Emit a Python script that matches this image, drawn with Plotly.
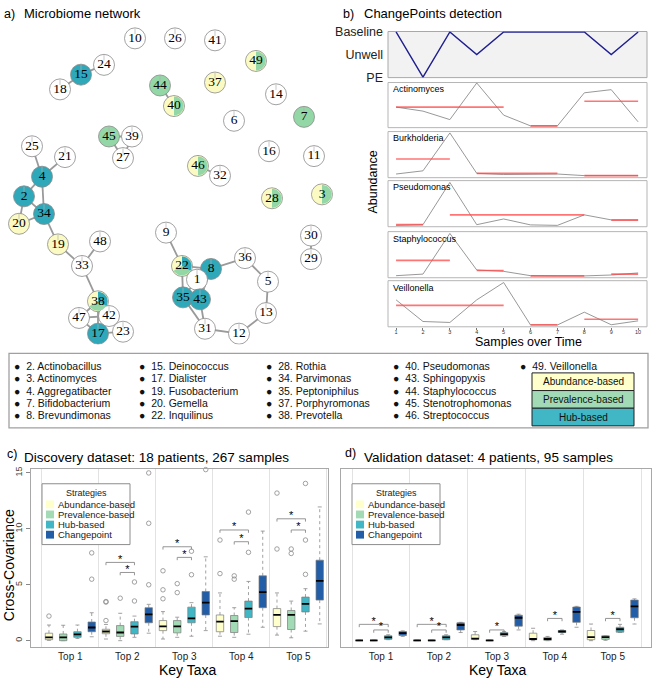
import plotly.graph_objects as go
import math

W, H = 655, 685
SANS = "Liberation Sans"
SERIF = "Liberation Serif"

# ---------------- colours (YlGnBu) ----------------
COL = {"A": "#FFFFCC", "P": "#A1DAB4", "H": "#41B6C4", "C": "#225EA8", "": "#FFFFFF"}
NET_COL = {"A": "#FAFAC2", "P": "#93D7A6", "H": "#2FA8BA", "": "#FFFFFF"}

# ---------------- a) network data ----------------
node_ids = [10, 26, 41, 49, 15, 24, 18, 44, 37, 40, 14, 7, 6, 45, 39, 27, 25, 21, 4, 16, 11, 46, 32,
            2, 34, 20, 19, 48, 33, 38, 47, 42, 17, 23, 9, 22, 8, 1, 35, 43, 31, 12, 13, 5, 36, 28, 3, 30, 29]
node_x = [135, 175, 215, 256, 81, 104, 60, 160, 215, 174, 276, 304, 234, 109, 132, 123, 32, 65, 42, 269, 314, 198, 220,
          24, 44, 19, 58, 100, 82, 98, 79, 109, 98, 123, 166, 182, 211, 197, 183, 200, 205, 239, 266, 268, 245, 272, 322, 311, 311]
node_y = [33, 33, 35, 56, 70, 60, 85, 81, 78, 102, 90, 113, 117, 133, 133, 155, 143, 154, 174, 148, 153, 163, 173,
          194, 212, 222, 243, 240, 265, 301, 318, 316, 334, 332, 231, 265, 268, 279, 297, 299, 329, 334, 313, 281, 257, 196, 192, 234, 258]
node_group = ["", "", "", "AP", "H", "", "", "P", "A", "AP", "", "P", "", "P", "", "", "", "", "H", "", "", "AP", "",
              "H", "H", "A", "A", "", "", "APH", "", "", "H", "", "", "APH", "H", "", "H", "H", "", "", "", "", "", "AP", "AP", "", ""]
edges = [(15, 24), (15, 18), (44, 40), (45, 39), (45, 27), (39, 27), (25, 4), (21, 4), (46, 32), (4, 2), (4, 34),
         (2, 34), (2, 20), (20, 34), (34, 19), (19, 33), (33, 48), (33, 38), (38, 47), (38, 42), (38, 17), (47, 17),
         (47, 42), (42, 23), (17, 23), (9, 22), (22, 8), (22, 35), (22, 1), (8, 36), (8, 1), (8, 43), (1, 35),
         (1, 43), (35, 43), (35, 31), (43, 31), (31, 12), (12, 13), (13, 5), (5, 36), (30, 29)]

# ---------------- b) changepoint data ----------------
samples = list(range(1, 11))
status = [2, 0, 2, 1, 2, 2, 2, 2, 1, 2]
status_labels = ["PE", "Unwell", "Baseline"]
taxa = ["Actinomyces", "Burkholderia", "Pseudomonas", "Staphylococcus", "Veillonella"]
abund_actinomyces = [0.45, 0.36, 0.17, 0.99, 0.27, 0.03, 0.03, 0.77, 0.84, 0.12]
abund_burkholderia = [0.07, 0.14, 0.97, 0.085, 0.06, 0.06, 0.07, 0.035, 0.035, 0.035]
abund_pseudomonas = [0.02, 0.035, 0.96, 0.035, 0.16, 0.03, 0.02, 0.25, 0.14, 0.14]
abund_staphylococcus = [0.035, 0.07, 0.96, 0.16, 0.13, 0.035, 0.03, 0.03, 0.05, 0.095]
abund_veillonella = [0.58, 0.106, 0.085, 0.58, 0.96, 0.03, 0.03, 0.31, 0.035, 0.12]
seg_actinomyces = [(1, 5, 0.45), (6, 7, 0.03), (8, 10, 0.58)]
seg_burkholderia = [(1, 3, 0.40), (4, 7, 0.085), (8, 10, 0.035)]
seg_pseudomonas = [(1, 2, 0.035), (3, 8, 0.25), (9, 10, 0.135)]
seg_staphylococcus = [(1, 3, 0.37), (4, 5, 0.15), (6, 8, 0.03), (9, 10, 0.07)]
seg_veillonella = [(1, 5, 0.46), (6, 7, 0.035), (8, 10, 0.155)]
abund_all = [abund_actinomyces, abund_burkholderia, abund_pseudomonas, abund_staphylococcus, abund_veillonella]
seg_all = [seg_actinomyces, seg_burkholderia, seg_pseudomonas, seg_staphylococcus, seg_veillonella]

# ---------------- species key ----------------
key_col1 = ["2. Actinobacillus", "3. Actinomyces", "4. Aggregatibacter", "7. Bifidobacterium", "8. Brevundimonas"]
key_col2 = ["15. Deinococcus", "17. Dialister", "19. Fusobacterium", "20. Gemella", "22. Inquilinus"]
key_col3 = ["28. Rothia", "34. Parvimonas", "35. Peptoniphilus", "37. Porphyromonas", "38. Prevotella"]
key_col4 = ["40. Pseudomonas", "43. Sphingopyxis", "44. Staphylococcus", "45. Stenotrophomonas", "46. Streptococcus"]
key_col5 = ["49. Veillonella"]
key_strategies = ["Abundance-based", "Prevalence-based", "Hub-based"]

# ---------------- c/d) boxplot data ----------------
categories = ["Top 1", "Top 2", "Top 3", "Top 4", "Top 5"]
strategies = ["Abundance-based", "Prevalence-based", "Hub-based", "Changepoint"]
strategy_keys = ["A", "P", "H", "C"]

# discovery: q1, median, q3, lower whisker, upper whisker
disc_abund = dict(q1=[0.09, 0.62, 0.9, 0.8, 1.26], med=[0.3, 0.82, 1.28, 1.7, 2.3], q3=[0.67, 1.02, 1.8, 2.3, 2.87],
                  lo=[0.03, 0.15, 0.15, 0.4, 0.5], hi=[1.4, 1.45, 2.6, 4.27, 4.27])
disc_prev = dict(q1=[0.0, 0.38, 0.7, 0.73, 1.0], med=[0.3, 0.73, 1.28, 1.75, 2.3], q3=[0.6, 1.35, 1.8, 2.25, 2.7],
                 lo=[0.0, 0.0, 0.3, 0.3, 0.26], hi=[1.38, 2.45, 2.1, 2.95, 3.54])
disc_hub = dict(q1=[0.3, 0.6, 1.6, 2.07, 2.57], med=[0.56, 1.26, 2.0, 2.87, 3.3], q3=[0.8, 1.7, 3.0, 3.54, 3.9],
                lo=[0.2, 0.3, 0.4, 0.58, 0.85], hi=[1.4, 2.2, 3.4, 5.3, 4.65])
disc_cp = dict(q1=[0.8, 1.6, 2.3, 2.95, 3.63], med=[1.18, 2.35, 3.4, 4.35, 5.35], q3=[1.67, 2.95, 4.4, 5.8, 7.2],
               lo=[0.35, 0.67, 0.9, 1.2, 1.5], hi=[2.5, 3.25, 7.5, 9.8, 11.96])
disc_out_abund = [[2.2], [1.8, 3.5, 3.45], [3.75, 4.55, 6.25], [6.0, 9.0], [8.2, 13.2]]
disc_out_prev = [[], [3.8], [4.3, 5.1], [5.5, 5.8], [7.8, 8.2]]
disc_out_hub = [[], [3.55, 5.25], [5.9, 8.0], [7.9, 11.5], [5.93, 9.0, 14.06]]
disc_out_cp = [[5.5, 7.85], [5.0, 10.5, 15.0], [15.3], [], []]
disc_brackets = [(2, 0, 2, 7.0), (2, 1, 2, 6.1), (3, 0, 2, 8.4), (3, 1, 2, 7.45),
                 (4, 0, 2, 9.9), (4, 1, 2, 8.85), (5, 0, 2, 10.9), (5, 1, 2, 9.9)]

val_abund = dict(q1=[0, 0, 0.12, 0.09, 0.09], med=[0.02, 0.02, 0.18, 0.15, 0.32], q3=[0.05, 0.05, 0.53, 0.67, 0.91],
                 lo=[0, 0, 0.09, 0.0, 0.0], hi=[0.05, 0.05, 0.82, 1.11, 1.49])
val_prev = dict(q1=[0, 0, 0, 0.03, 0.12], med=[0.02, 0.02, 0.03, 0.15, 0.32], q3=[0.05, 0.05, 0.05, 0.29, 0.44],
                lo=[0, 0, 0, 0, 0.03], hi=[0.05, 0.05, 0.05, 0.38, 0.44])
val_hub = dict(q1=[0.12, 0.09, 0.44, 0.73, 0.76], med=[0.29, 0.29, 0.58, 0.82, 1.02], q3=[0.44, 0.44, 0.73, 0.91, 1.2],
               lo=[0.09, 0.09, 0.38, 0.58, 0.73], hi=[0.53, 0.53, 0.82, 0.96, 1.46])
val_cp = dict(q1=[0.47, 0.96, 1.3, 1.64, 2.05], med=[0.67, 1.4, 2.05, 2.57, 3.07], q3=[0.82, 1.6, 2.28, 3.01, 3.63],
              lo=[0.38, 0.73, 0.96, 1.2, 1.49], hi=[0.88, 1.64, 2.37, 3.07, 3.74])
val_brackets = [(1, 0, 2, 1.46), (1, 1, 2, 0.96), (2, 0, 2, 1.46), (2, 1, 2, 0.96), (3, 1, 2, 0.96),
                (4, 1, 2, 1.99), (5, 1, 2, 1.99)]

# ---------------- helpers ----------------
def xd(a, b):
    return [a / W, b / W]


def yd(top, bottom):
    return [1 - bottom / H, 1 - top / H]


fig = go.Figure()
annotations = []
shapes = []


def ann(x, y, text, size, xanchor="center", yanchor="middle", angle=0, color="black", family=SANS, pad=1):
    annotations.append(dict(x=x / W, y=1 - y / H, xref="paper", yref="paper", text=text, showarrow=False,
                            xanchor=xanchor, yanchor=yanchor, textangle=angle, borderpad=pad,
                            font=dict(size=size, color=color, family=family)))


def rect(x0, y0, x1, y1, fill, line, lw=1):
    shapes.append(dict(type="rect", xref="paper", yref="paper", x0=x0 / W, x1=x1 / W, y0=1 - y1 / H, y1=1 - y0 / H,
                       fillcolor=fill, line=dict(color=line, width=lw), layer="below"))


layout = {}

# ---------------- a) network ----------------
layout["xaxis"] = dict(domain=xd(0, 340), range=[0, 340], visible=False, anchor="y", fixedrange=True)
layout["yaxis"] = dict(domain=yd(20, 345), range=[345, 20], visible=False, anchor="x", fixedrange=True)
pos = {n: (x, y) for n, x, y in zip(node_ids, node_x, node_y)}
ex, ey = [], []
for a, b in edges:
    ex += [pos[a][0], pos[b][0], None]
    ey += [pos[a][1], pos[b][1], None]
fig.add_trace(go.Scatter(x=ex, y=ey, mode="lines", line=dict(color="#9a9a9a", width=1.8), xaxis="x", yaxis="y",
                         hoverinfo="skip", showlegend=False))
R = 10
fig.add_trace(go.Scatter(x=node_x, y=node_y, mode="markers", xaxis="x", yaxis="y", showlegend=False,
                         hoverinfo="skip",
                         marker=dict(size=2 * R + 1, color=[NET_COL[g[0]] if g else "#FFFFFF" for g in node_group],
                                     line=dict(color="#8a8a8a", width=0.8))))
# pie wedges for multi-strategy nodes (slices start at top, counter-clockwise)
for n, x, y, g in zip(node_ids, node_x, node_y, node_group):
    if len(g) < 2:
        continue
    k = len(g)
    for i, c in enumerate(g):
        a0 = math.pi / 2 + i * 2 * math.pi / k
        a1 = a0 + 2 * math.pi / k
        px, py = [x], [y]
        for s in range(31):
            t = a0 + (a1 - a0) * s / 30
            px.append(x + (R - 0.3) * math.cos(t))
            py.append(y - (R - 0.3) * math.sin(t))
        px.append(x)
        py.append(y)
        fig.add_trace(go.Scatter(x=px, y=py, mode="lines", fill="toself", fillcolor=NET_COL[c],
                                 line=dict(width=0, color=NET_COL[c]), xaxis="x", yaxis="y",
                                 hoverinfo="skip", showlegend=False))
# slice boundary tick on top of single-colour nodes
tx, ty = [], []
for x, y, g in zip(node_x, node_y, node_group):
    if len(g) <= 1:
        tx += [x, x, None]
        ty += [y - R, y - 0.45 * R, None]
fig.add_trace(go.Scatter(x=tx, y=ty, mode="lines", line=dict(color="#b0b0b0", width=0.7), xaxis="x", yaxis="y",
                         hoverinfo="skip", showlegend=False))
fig.add_trace(go.Scatter(x=node_x, y=node_y, mode="text", text=[str(n) for n in node_ids], xaxis="x", yaxis="y",
                         textposition="middle center", textfont=dict(family=SERIF, size=13.5, color="#000000"),
                         hoverinfo="skip", showlegend=False))

# ---------------- b) changepoints ----------------
BX0, BX1 = 388, 647
xr = [0.70, 10.33]
layout["xaxis2"] = dict(domain=xd(BX0, BX1), range=xr, anchor="y2", showticklabels=False, showgrid=False,
                        zeroline=False, showline=False, ticks="")
layout["yaxis2"] = dict(domain=yd(26, 73), range=[-0.02, 2.02], anchor="x2", tickvals=[0, 1, 2],
                        ticktext=status_labels, showgrid=False, zeroline=False, ticks="", ticklabelstandoff=4,
                        tickfont=dict(family=SANS, size=12.5, color="#222"))
rect(BX0, 26, BX1, 73, "#F2F2F2", "#A8A8A8", 1)
fig.add_trace(go.Scatter(x=samples, y=status, mode="lines", line=dict(color="#1F1F8F", width=1.4),
                         xaxis="x2", yaxis="y2", showlegend=False))

panel_rows = [(78, 124), (128, 175), (178, 225), (230, 277), (280, 327)]
for i, (tname, vals, segs, (t0, t1)) in enumerate(zip(taxa, abund_all, seg_all, panel_rows)):
    ax = i + 3
    last = i == len(taxa) - 1
    layout[f"xaxis{ax}"] = dict(domain=xd(BX0, BX1), range=xr, anchor=f"y{ax}", showgrid=False, zeroline=False,
                                showticklabels=last, tickvals=samples, ticks="outside" if last else "",
                                ticklen=2, tickcolor="#777", ticklabelstandoff=-2,
                                tickfont=dict(size=5.5, family=SANS, color="#333"))
    layout[f"yaxis{ax}"] = dict(domain=yd(t0, t1), range=[-0.01, 1.0], anchor=f"x{ax}", visible=False)
    rect(BX0, t0, BX1, t1, "white", "#B5B5B5", 1)
    fig.add_trace(go.Scatter(x=samples, y=vals, mode="lines", line=dict(color="#8C8C8C", width=0.9),
                             xaxis=f"x{ax}", yaxis=f"y{ax}", showlegend=False))
    sx, sy = [], []
    for s0, s1, lv in segs:
        sx += [s0, s1, None]
        sy += [lv, lv, None]
    fig.add_trace(go.Scatter(x=sx, y=sy, mode="lines", line=dict(color="rgba(255,70,70,0.75)", width=1.6),
                             xaxis=f"x{ax}", yaxis=f"y{ax}", showlegend=False))
    ann(BX0 + 3, t0 + 7, tname, 9, xanchor="left")

ann(373, 180, "Abundance", 12.5, angle=-90)
ann(528, 343, "Samples over Time", 12.5)

# ---------------- titles ----------------
ann(2, 8, "a)", 12.5, xanchor="left")
ann(22, 8, "Microbiome network", 13, xanchor="left")
ann(341, 8, "b)", 12.5, xanchor="left")
ann(362, 8, "ChangePoints detection", 13, xanchor="left")

# ---------------- species key ----------------
rect(9, 354, 648, 430, "white", "#A0A0A0", 1.3)
row_y = [367, 379.5, 392, 404.5, 417]
col_x = [13, 138, 265, 392, 519]
for cx, col in zip(col_x, [key_col1, key_col2, key_col3, key_col4, key_col5]):
    for ry, t in zip(row_y, col):
        ann(cx, ry, "\u25CF  " + t, 10.5, xanchor="left", color="#111", pad=0)
key_rows = [(374, 392), (392, 410), (410, 428)]
for (k0, k1), lab, kk in zip(key_rows, key_strategies, ["A", "P", "H"]):
    rect(532, k0, 634, k1, COL[kk], "#222", 1)
    ann(583, (k0 + k1) / 2, lab, 10, color="#111")

# ---------------- c) / d) boxplots ----------------
offsets = [-0.375, -0.125, 0.125, 0.375]
HW = 0.065
CW = 0.035


def add_box_panel(xa, ya, stats_list, out_list, brackets):
    for si, (st, kk) in enumerate(zip(stats_list, strategy_keys)):
        rx, ry, wx, wy, cx, cy, mx, my, ox, oy = [], [], [], [], [], [], [], [], [], []
        for ci in range(len(categories)):
            p = ci + 1 + offsets[si]
            x0, x1 = p - HW, p + HW
            q1, md, q3, lo, hi = st["q1"][ci], st["med"][ci], st["q3"][ci], st["lo"][ci], st["hi"][ci]
            rx += [x0, x1, x1, x0, x0, None]
            ry += [q1, q1, q3, q3, q1, None]
            wx += [p, p, None, p, p, None]
            wy += [q3, hi, None, q1, lo, None]
            cx += [p - CW, p + CW, None, p - CW, p + CW, None]
            cy += [hi, hi, None, lo, lo, None]
            mx += [x0, x1, None]
            my += [md, md, None]
            if out_list is not None:
                for v in out_list[si][ci]:
                    ox.append(p)
                    oy.append(v)
        common = dict(xaxis=xa, yaxis=ya, showlegend=False, hoverinfo="skip")
        fig.add_trace(go.Scatter(x=wx, y=wy, mode="lines", line=dict(color="#8A8A8A", width=0.8, dash="dot"), **common))
        fig.add_trace(go.Scatter(x=cx, y=cy, mode="lines", line=dict(color="#8A8A8A", width=0.8), **common))
        fig.add_trace(go.Scatter(x=rx, y=ry, mode="lines", fill="toself", fillcolor=COL[kk],
                                 line=dict(color="#7A7A7A", width=0.7), **common))
        fig.add_trace(go.Scatter(x=mx, y=my, mode="lines", line=dict(color="black", width=1.8), **common))
        if ox:
            fig.add_trace(go.Scatter(x=ox, y=oy, mode="markers", cliponaxis=False,
                                     marker=dict(symbol="circle-open", size=4.5, color="#8A8A8A",
                                                 line=dict(width=0.8)), **common))
    bx, by, stx, sty = [], [], [], []
    for cat, sa, sb, lv in brackets:
        xa0 = cat + offsets[sa]
        xb0 = cat + offsets[sb]
        bx += [xa0, xa0, xb0, xb0, None]
        by += [lv - 0.25, lv, lv, lv - 0.25, None]
        stx.append((xa0 + xb0) / 2)
        sty.append(lv + 0.2)
    fig.add_trace(go.Scatter(x=bx, y=by, mode="lines", line=dict(color="#8A8A8A", width=0.9),
                             xaxis=xa, yaxis=ya, showlegend=False, hoverinfo="skip"))
    fig.add_trace(go.Scatter(x=stx, y=sty, mode="text", text=["*"] * len(stx), textposition="middle center",
                             textfont=dict(size=11, color="black", family=SANS),
                             xaxis=xa, yaxis=ya, showlegend=False, hoverinfo="skip"))


YR = [-0.53, 15.35]
grid_vals = [0.5, 1.5, 2.5, 3.5, 4.5, 5.5]
for ax, (x0, x1), xrange_ in [(8, (31, 328), [0.31, 5.52]), (9, (341, 651), [0.31, 5.66])]:
    layout[f"xaxis{ax}"] = dict(domain=xd(x0, x1), range=xrange_, anchor=f"y{ax}", tickvals=[1, 2, 3, 4, 5],
                                ticktext=categories, showgrid=False, zeroline=False, showline=True, mirror=True,
                                linecolor="#A8A8A8", linewidth=1.2, ticks="",
                                tickfont=dict(size=10, family=SANS, color="#222"),
                                minor=dict(tickvals=grid_vals, showgrid=True, gridcolor="#E2E2E2", gridwidth=1,
                                           ticks=""))
    layout[f"yaxis{ax}"] = dict(domain=yd(472, 653), range=YR, anchor=f"x{ax}", showgrid=False, zeroline=False,
                                showline=True, mirror=True, linecolor="#A8A8A8", linewidth=1.2,
                                tickvals=[0, 5, 10, 15], showticklabels=(ax == 8),
                                ticks="outside" if ax == 8 else "", ticklen=4, tickcolor="#888",
                                tickangle=-90, tickfont=dict(size=9, family=SANS, color="#444"))

add_box_panel("x8", "y8", [disc_abund, disc_prev, disc_hub, disc_cp],
              [disc_out_abund, disc_out_prev, disc_out_hub, disc_out_cp], disc_brackets)
add_box_panel("x9", "y9", [val_abund, val_prev, val_hub, val_cp], None, val_brackets)

# strategy legends
for lx in [42, 352]:
    shapes.append(dict(type="rect", xref="paper", yref="paper", x0=lx / W, x1=(lx + 88) / W,
                       y0=1 - 549 / H, y1=1 - 487 / H, fillcolor="white", line=dict(color="#8C8C8C", width=1),
                       layer="above"))
    ann(lx + 44, 496, "Strategies", 9, color="#222", pad=0)
    for j, (lab, kk) in enumerate(zip(strategies, strategy_keys)):
        yy = 508 + j * 10.3
        shapes.append(dict(type="rect", xref="paper", yref="paper", x0=(lx + 4) / W, x1=(lx + 12) / W,
                           y0=1 - (yy + 4) / H, y1=1 - (yy - 4) / H, fillcolor=COL[kk],
                           line=dict(width=0), layer="above"))
        ann(lx + 15, yy, lab, 9.5, xanchor="left", color="#222", pad=0)

ann(5, 457, "c)", 12.5, xanchor="left")
ann(22, 460, "Discovery dataset: 18 patients, 267 samples", 13.5, xanchor="left")
ann(343, 456, "d)", 12.5, xanchor="left")
ann(362, 460, "Validation dataset: 4 patients, 95 samples", 13.5, xanchor="left")
ann(9, 570, "Cross-Covariance", 14, angle=-90)
ann(188, 677, "Key Taxa", 14)
ann(498, 677, "Key Taxa", 14)

fig.update_layout(width=W, height=H, margin=dict(l=0, r=0, t=0, b=0), paper_bgcolor="white",
                  plot_bgcolor="rgba(0,0,0,0)", showlegend=False, annotations=annotations, shapes=shapes,
                  font=dict(family=SANS), hovermode=False)
fig.update_layout(**layout)
fig.write_html("out.html", config={"displayModeBar": False, "staticPlot": True},
               post_script="document.documentElement.style.margin='0';document.body.style.margin='0';"
                           "document.body.style.padding='0';document.body.style.overflow='hidden';")
